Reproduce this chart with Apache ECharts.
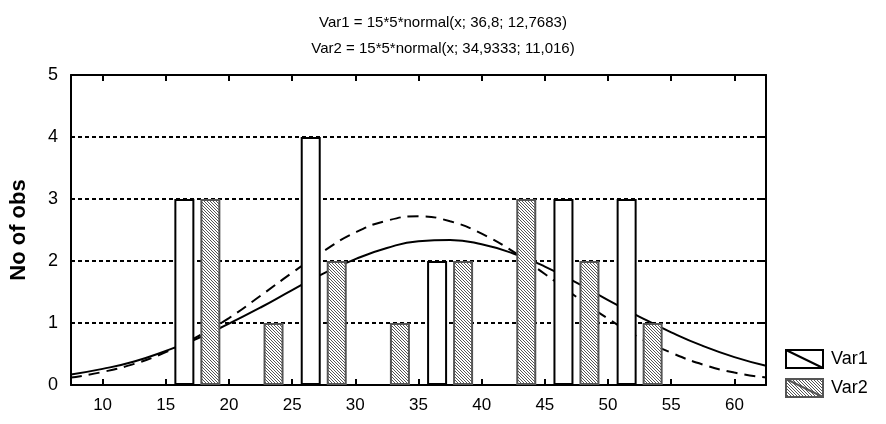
<!DOCTYPE html>
<html><head><meta charset="utf-8">
<script src="https://cdn.jsdelivr.net/npm/echarts@6/dist/echarts.min.js"></script>
<style>html,body{margin:0;padding:0;background:#fff}#c{width:886px;height:424px}</style>
</head><body><div id="c"></div>
<script>
// Histogram bins (group centres) and counts
const binCenters = [17.5, 22.5, 27.5, 32.5, 37.5, 42.5, 47.5, 52.5];
const var1Counts = [3, 0, 4, 0, 2, 0, 3, 3];
const var2Counts = [3, 1, 2, 1, 2, 3, 2, 1];
// Fitted curves
const curveX = [7.5,10,12.5,15,17.5,20,22.5,25,27.5,30,32.5,35,37.5,40,42.5,45,47.5,50,52.5,55,57.5,60,62.5];
const var1Curve = [0.17,0.26,0.38,0.55,0.75,0.99,1.25,1.53,1.80,2.03,2.21,2.32,2.34,2.27,2.12,1.91,1.65,1.37,1.10,0.85,0.63,0.45,0.31];
const var2Curve = [0.12,0.21,0.34,0.53,0.78,1.08,1.44,1.81,2.16,2.46,2.65,2.72,2.64,2.44,2.15,1.79,1.42,1.07,0.76,0.52,0.33,0.20,0.12];
const xTicks = [10,15,20,25,30,35,40,45,50,55,60];
const titleLines = ['Var1 = 15*5*normal(x; 36,8; 12,7683)', 'Var2 = 15*5*normal(x; 34,9333; 11,016)'];

function pair(xs, ys, skipZero) {
  const out = [];
  xs.forEach((x, i) => { if (!skipZero || ys[i] !== 0) out.push([x, ys[i]]); });
  return out;
}
// hatch pattern
const pc = document.createElement('canvas');
pc.width = 3; pc.height = 3;
const pctx = pc.getContext('2d');
pctx.fillStyle = '#ffffff'; pctx.fillRect(0,0,3,3);
pctx.fillStyle = '#555555';
for (let i = 0; i < 3; i++) pctx.fillRect(i, i, 1, 1);

const font = 'Liberation Sans, Arial, sans-serif';
const chart = echarts.init(document.getElementById('c'), null, {renderer: 'canvas'});
const iconPath = 'path://M0,0 L37,0 L37,18 L0,18 Z M0,0 L37,18';
chart.setOption({
  animation: false,
  backgroundColor: '#fff',
  title: {
    text: titleLines.join('\n'),
    left: 'center', top: 5,
    textStyle: {fontFamily: font, fontSize: 15, fontWeight: 'normal', color: '#000', lineHeight: 26}
  },
  legend: {
    data: [{name: 'Var1', icon: iconPath}, {name: 'Var2', icon: iconPath}],
    orient: 'vertical', left: 785, top: 349, padding: 0,
    itemWidth: 37, itemHeight: 18, itemGap: 9,
    textStyle: {fontFamily: font, fontSize: 18, color: '#000', padding: [0, 0, 0, 3]}
  },
  grid: {left: 70, right: 120, top: 75, bottom: 39},
  xAxis: [{
    type: 'value', min: 7.5, max: 62.5, position: 'bottom',
    axisLine: {show: true, onZero: false, lineStyle: {color: '#000', width: 2}},
    axisTick: {show: true, inside: true, length: 6, customValues: xTicks, lineStyle: {color: '#000', width: 2}},
    axisLabel: {customValues: xTicks, fontFamily: font, fontSize: 17, color: '#000', margin: 12},
    splitLine: {show: false}
  }, {
    type: 'value', min: 7.5, max: 62.5, position: 'top',
    axisLine: {show: true, onZero: false, lineStyle: {color: '#000', width: 2}},
    axisTick: {show: true, inside: true, length: 6, customValues: xTicks, lineStyle: {color: '#000', width: 2}},
    axisLabel: {show: false}, splitLine: {show: false}
  }],
  yAxis: [{
    type: 'value', min: 0, max: 5, interval: 1,
    name: 'No of obs', nameLocation: 'middle', nameGap: 41,
    nameTextStyle: {fontFamily: font, fontSize: 22, fontWeight: 'bold', color: '#000'},
    axisLine: {show: true, lineStyle: {color: '#000', width: 2}},
    axisTick: {show: false},
    axisLabel: {fontFamily: font, fontSize: 18, color: '#000', margin: 13},
    splitLine: {show: true, lineStyle: {color: '#000', width: 2, type: [4, 3]}}
  }, {
    type: 'value', min: 0, max: 5, interval: 1, position: 'right',
    axisLine: {show: true, lineStyle: {color: '#000', width: 2}},
    axisTick: {show: true, inside: true, length: 5, lineStyle: {color: '#000', width: 2}},
    axisLabel: {show: false}, splitLine: {show: false}
  }],
  series: [{
    name: 'Var1 fit', type: 'line', xAxisIndex: 0, yAxisIndex: 0, z: 1,
    data: pair(curveX, var1Curve), smooth: true, showSymbol: false, symbol: 'none',
    lineStyle: {color: '#000', width: 2}
  }, {
    name: 'Var2 fit', type: 'line', xAxisIndex: 0, yAxisIndex: 0, z: 1,
    data: pair(curveX, var2Curve), smooth: true, showSymbol: false, symbol: 'none',
    lineStyle: {color: '#000', width: 2, type: [11, 7]}
  }, {
    name: 'Var1', type: 'bar', xAxisIndex: 0, yAxisIndex: 0, z: 3,
    data: pair(binCenters, var1Counts, true),
    barWidth: 20, barGap: '30%',
    itemStyle: {color: '#fff', borderColor: '#000', borderWidth: 2}
  }, {
    name: 'Var2', type: 'bar', xAxisIndex: 0, yAxisIndex: 0, z: 3,
    data: pair(binCenters, var2Counts, true),
    barWidth: 20, barGap: '30%',
    itemStyle: {color: {image: pc, repeat: 'repeat'}, borderColor: '#555', borderWidth: 2}
  }]
});
</script></body></html>
